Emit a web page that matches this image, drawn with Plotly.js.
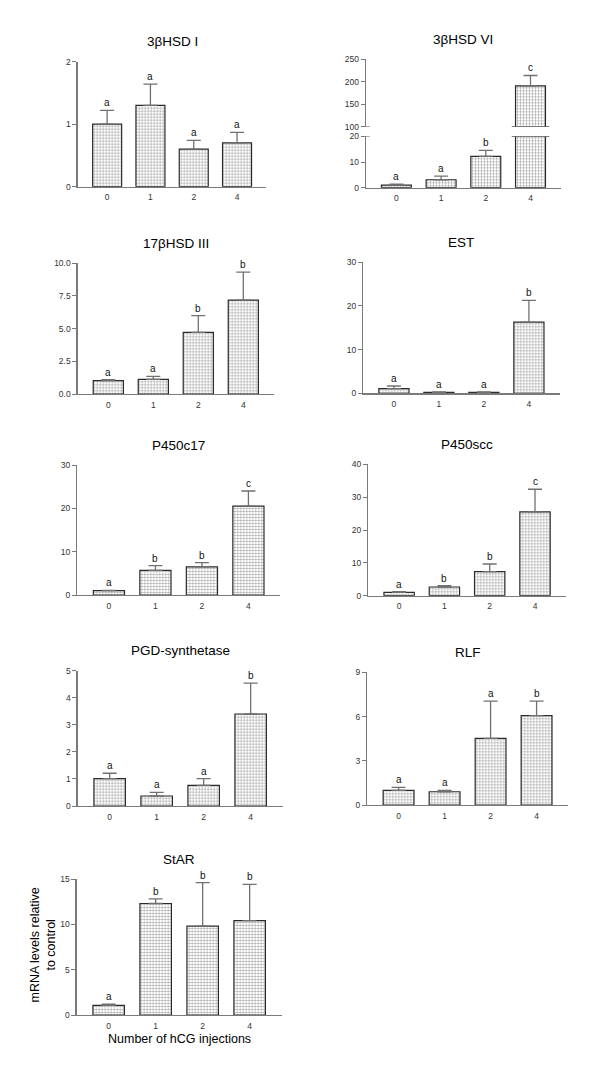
<!DOCTYPE html>
<html><head><meta charset="utf-8">
<script src="https://cdn.plot.ly/plotly-3.0.1.min.js"></script>
<style>html,body{margin:0;padding:0;background:#fff}#chart{width:600px;height:1090px}</style>
</head><body><div id="chart"></div>
<script>
// ---------------- data ----------------
const categories = ['0', '1', '2', '4'];

const hsd1Values = [1.00, 1.30, 0.60, 0.70];
const hsd1Errors = [0.22, 0.34, 0.14, 0.17];
const hsd1Letters = ['a', 'a', 'a', 'a'];

const hsd6Values = [1.0, 3.1, 12.2, 191];
const hsd6Errors = [0.4, 1.4, 2.3, 23];
const hsd6Letters = ['a', 'a', 'b', 'c'];

const hsd17Values = [1.02, 1.12, 4.72, 7.19];
const hsd17Errors = [0.08, 0.23, 1.28, 2.14];
const hsd17Letters = ['a', 'a', 'b', 'b'];

const estValues = [1.05, 0.2, 0.2, 16.3];
const estErrors = [0.62, 0.12, 0.12, 5.0];
const estLetters = ['a', 'a', 'a', 'b'];

const p450c17Values = [1.0, 5.7, 6.5, 20.5];
const p450c17Errors = [0.05, 1.07, 0.95, 3.5];
const p450c17Letters = ['a', 'b', 'b', 'c'];

const p450sccValues = [1.0, 2.65, 7.3, 25.5];
const p450sccErrors = [0.2, 0.4, 2.35, 6.9];
const p450sccLetters = ['a', 'b', 'b', 'c'];

const pgdValues = [1.01, 0.37, 0.76, 3.40];
const pgdErrors = [0.2, 0.13, 0.25, 1.14];
const pgdLetters = ['a', 'a', 'a', 'b'];

const rlfValues = [0.99, 0.90, 4.52, 6.06];
const rlfErrors = [0.21, 0.09, 2.52, 0.98];
const rlfLetters = ['a', 'a', 'a', 'b'];

const starValues = [1.07, 12.3, 9.8, 10.4];
const starErrors = [0.13, 0.5, 4.8, 4.0];
const starLetters = ['a', 'b', 'b', 'b'];

const xAxisTitle = 'Number of hCG injections';
const yAxisTitle = 'mRNA levels relative<br>to control';

// ---------------- layout geometry (pixels) ----------------
const W = 600, H = 1090;
const fx = p => p / W;
const fy = p => 1 - p / H;
const AX = '#7a7a7a';
const FONT = 'Liberation Sans, Arial, Helvetica, sans-serif';

const panels = [
  {title: '3βHSD I', v: hsd1Values, e: hsd1Errors, l: hsd1Letters, x0: 77.7, s: 43.3, top: 61.7, bot: 186.7, range: [0, 2], dtick: 1, fmt: ''},
  {title: '3βHSD VI', v: hsd6Values, e: hsd6Errors, l: hsd6Letters, x0: 366, s: 44.7, top: 59.3, bot: 187.7, range: [0, 20], dtick: 10, fmt: '',
   broken: {lowerTop: 136.3, upperBot: 126.7, upperRange: [100, 250], upperDtick: 50}},
  {title: '17βHSD III', v: hsd17Values, e: hsd17Errors, l: hsd17Letters, x0: 77.7, s: 45, top: 263.3, bot: 394, range: [0, 10], dtick: 2.5, fmt: '.1f'},
  {title: 'EST', v: estValues, e: estErrors, l: estLetters, x0: 363.3, s: 45, top: 262.3, bot: 393.3, range: [0, 30], dtick: 10, fmt: ''},
  {title: 'P450c17', v: p450c17Values, e: p450c17Errors, l: p450c17Letters, x0: 77.3, s: 46.5, top: 465, bot: 595, range: [0, 30], dtick: 10, fmt: ''},
  {title: 'P450scc', v: p450sccValues, e: p450sccErrors, l: p450sccLetters, x0: 368.3, s: 45.3, top: 464.3, bot: 595.7, range: [0, 40], dtick: 10, fmt: ''},
  {title: 'PGD-synthetase', v: pgdValues, e: pgdErrors, l: pgdLetters, x0: 77.7, s: 47, top: 670.7, bot: 806, range: [0, 5], dtick: 1, fmt: ''},
  {title: 'RLF', v: rlfValues, e: rlfErrors, l: rlfLetters, x0: 367.3, s: 46, top: 672.3, bot: 805, range: [0, 9], dtick: 3, fmt: ''},
  {title: 'StAR', v: starValues, e: starErrors, l: starLetters, x0: 76.7, s: 47, top: 879, bot: 1015, range: [0, 15], dtick: 5, fmt: ''}
];

const data = [];
const layout = {
  width: W, height: H,
  margin: {l: 0, r: 0, t: 0, b: 0},
  showlegend: false,
  paper_bgcolor: '#fff', plot_bgcolor: 'rgba(0,0,0,0)',
  font: {family: FONT, color: '#222'},
  annotations: [], shapes: []
};

function yAxisDef(domain, anchor, range, dtick, fmt) {
  return {
    domain: domain, anchor: anchor, range: range, tickmode: 'linear', tick0: range[0], dtick: dtick,
    tickformat: fmt, ticks: 'outside', ticklen: 4, tickwidth: 1, tickcolor: AX,
    showline: true, linecolor: AX, linewidth: 1.3, showgrid: false, zeroline: false,
    tickfont: {size: 8.5, color: '#333', family: FONT}, fixedrange: true
  };
}

function barTrace(p, xa, ya) {
  return {
    type: 'bar', x: categories, y: p.v, xaxis: xa, yaxis: ya, width: 0.67,
    marker: {color: '#fff', line: {color: '#2a2a2a', width: 1.2},
             pattern: {shape: '+', size: 3, solidity: 0.3, fgcolor: '#999999', bgcolor: '#fff'}},
    error_y: {type: 'data', symmetric: false, array: p.e, arrayminus: p.e.map(() => 0),
              color: '#707070', thickness: 1.3, width: 7},
    hoverinfo: 'skip'
  };
}

panels.forEach((p, i) => {
  const n = i + 1;
  const sfx = n === 1 ? '' : String(n);
  const xa = 'x' + sfx, ya = 'y' + sfx;
  const xDomain = [fx(p.x0), fx(p.x0 + 4.36 * p.s)];
  layout['xaxis' + sfx] = {
    domain: xDomain, anchor: ya, type: 'category', range: [-0.68, 3.68],
    showline: true, linecolor: AX, linewidth: 1.3, ticks: '', showgrid: false, zeroline: false,
    tickfont: {size: 8.5, color: '#333', family: FONT}, ticklabelstandoff: 2, fixedrange: true
  };
  const lowerTop = p.broken ? p.broken.lowerTop : p.top;
  layout['yaxis' + sfx] = yAxisDef([fy(p.bot), fy(lowerTop)], xa, p.range, p.dtick, p.fmt);
  data.push(barTrace(p, xa, ya));

  let upperYa = null;
  if (p.broken) {
    const un = 10;
    upperYa = 'y' + un;
    layout['yaxis' + un] = yAxisDef([fy(p.broken.upperBot), fy(p.top)], xa, p.broken.upperRange, p.broken.upperDtick, '');
    data.push(barTrace(p, xa, upperYa));
    // break marks on the tall bar and on the axis
    const last = categories.length - 1;
    layout.shapes.push({type: 'line', xref: xa, yref: ya, x0: last - 0.42, x1: last + 0.42, y0: p.range[1], y1: p.range[1], line: {color: '#555', width: 1.2}});
    layout.shapes.push({type: 'line', xref: xa, yref: upperYa, x0: last - 0.42, x1: last + 0.42, y0: p.broken.upperRange[0], y1: p.broken.upperRange[0], line: {color: '#555', width: 1.2}});
    layout.shapes.push({type: 'line', xref: 'paper', yref: ya, x0: fx(p.x0 - 4), x1: fx(p.x0 + 4), y0: p.range[1], y1: p.range[1], line: {color: AX, width: 1}});
    layout.shapes.push({type: 'line', xref: 'paper', yref: upperYa, x0: fx(p.x0 - 4), x1: fx(p.x0 + 4), y0: p.broken.upperRange[0], y1: p.broken.upperRange[0], line: {color: AX, width: 1}});
  }

  // significance letters (x given as category index)
  p.v.forEach((v, k) => {
    const yTop = v + p.e[k];
    const useUpper = upperYa && yTop > p.range[1];
    layout.annotations.push({
      xref: xa, yref: useUpper ? upperYa : ya, x: k, y: yTop,
      text: p.l[k], showarrow: false, yanchor: 'bottom', yshift: 0,
      font: {size: 10, color: '#111', family: FONT}
    });
  });

  // panel title
  layout.annotations.push({
    xref: 'paper', yref: 'paper', x: (xDomain[0] + xDomain[1]) / 2, y: fy(p.top - 20),
    text: p.title, showarrow: false, xanchor: 'center', yanchor: 'middle',
    font: {size: 13.5, color: '#000', family: FONT}
  });

  if (n === panels.length) {
    layout.annotations.push({
      xref: 'paper', yref: 'paper', x: (xDomain[0] + xDomain[1]) / 2, y: fy(1039),
      text: xAxisTitle, showarrow: false, xanchor: 'center', yanchor: 'middle',
      font: {size: 12.5, color: '#000', family: FONT}
    });
    layout.annotations.push({
      xref: 'paper', yref: 'paper', x: fx(42.5), y: fy((p.top + p.bot) / 2 - 2),
      text: yAxisTitle, showarrow: false, xanchor: 'center', yanchor: 'middle', textangle: -90,
      font: {size: 12.5, color: '#000', family: FONT}
    });
  }
});

Plotly.newPlot('chart', data, layout, {staticPlot: true, displayModeBar: false});
</script>
</body></html>
